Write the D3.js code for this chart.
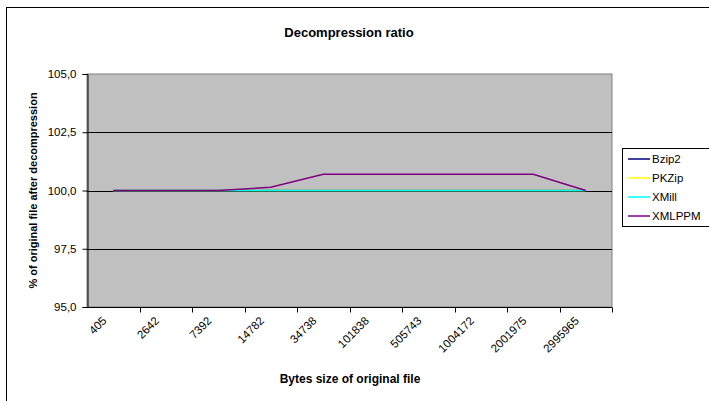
<!DOCTYPE html>
<html>
<head>
<meta charset="utf-8">
<script src="https://cdn.jsdelivr.net/npm/d3@7"></script>
<style>
  body { margin: 0; background: #fff; }
  text { font-family: "Liberation Sans", Arial, sans-serif; }
</style>
</head>
<body>
<div id="chart"></div>
<script>
// category labels (file sizes in bytes)
const sizes = ['405', '2642', '7392', '14782', '34738', '101838', '505743', '1004172', '2001975', '2995965']
const yTicks = [95, 97.5, 100, 102.5, 105]

// % of original file after decompression
const bzip2  = [100, 100, 100, 100, 100, 100, 100, 100, 100, 100]
const pkzip  = [100, 100, 100, 100, 100, 100, 100, 100, 100, 100]
const xmill  = [100, 100, 100, 100, 100, 100, 100, 100, 100, 100]
const xmlppm = [100, 100, 100, 100.14, 100.7, 100.7, 100.7, 100.7, 100.7, 100]

const series = [
  {name: 'Bzip2', values: bzip2, color: '#000080'},
  {name: 'PKZip', values: pkzip, color: '#ffff00'},
  {name: 'XMill', values: xmill, color: '#00ffff'},
  {name: 'XMLPPM', values: xmlppm, color: '#800080'}
]

const width = 709, height = 401
const plot = {left: 87, right: 612, top: 74, bottom: 307}

const svg = d3.select('#chart').append('svg')
  .attr('width', width)
  .attr('height', height)

// outer chart border
svg.append('rect')
  .attr('x', 6.5).attr('y', 7.5)
  .attr('width', 720).attr('height', 420)
  .attr('fill', '#fff').attr('stroke', '#000')

const x = d3.scaleBand().domain(sizes).range([plot.left, plot.right])
const y = d3.scaleLinear().domain([95, 105]).range([plot.bottom, plot.top])

// plot background
svg.append('rect')
  .attr('x', plot.left).attr('y', plot.top)
  .attr('width', plot.right - plot.left).attr('height', plot.bottom - plot.top)
  .attr('fill', '#c0c0c0').attr('stroke', '#808080')

// gridlines
svg.append('g').selectAll('line')
  .data(yTicks.slice(1, -1))
  .enter().append('line')
  .attr('x1', plot.left).attr('x2', plot.right)
  .attr('y1', d => Math.round(y(d)) + 0.5).attr('y2', d => Math.round(y(d)) + 0.5)
  .attr('stroke', '#000')

// y axis
const yAxis = svg.append('g')
  .attr('transform', `translate(${plot.left + 0.5},0)`)
  .call(d3.axisLeft(y).tickValues(yTicks).tickSize(5).tickPadding(6)
    .tickFormat(d => d3.format('.1f')(d).replace('.', ',')))
yAxis.select('.domain').attr('stroke', '#000')
yAxis.selectAll('text').attr('font-size', 11.5).attr('fill', '#000')

// x axis, ticks between categories
const xAxis = svg.append('g')
  .attr('transform', `translate(0,${plot.bottom + 0.5})`)
xAxis.append('line')
  .attr('x1', plot.left).attr('x2', plot.right)
  .attr('stroke', '#000')
xAxis.selectAll('.tk')
  .data(sizes)
  .enter().append('line')
  .attr('class', 'tk')
  .attr('x1', d => Math.round(x(d) + x.bandwidth()) + 0.5)
  .attr('x2', d => Math.round(x(d) + x.bandwidth()) + 0.5)
  .attr('y1', 0).attr('y2', 5)
  .attr('stroke', '#000')
xAxis.selectAll('.lbl')
  .data(sizes)
  .enter().append('text')
  .attr('class', 'lbl')
  .attr('font-size', 11.5)
  .attr('text-anchor', 'end')
  .attr('transform', d => `translate(${x(d) + x.bandwidth() / 2 - 6},${14}) rotate(-45)`)
  .text(d => d)

// lines
const line = d3.line()
  .x((d, i) => x(sizes[i]) + x.bandwidth() / 2)
  .y(d => y(d))

svg.append('g').selectAll('path')
  .data(series)
  .enter().append('path')
  .attr('d', d => line(d.values))
  .attr('fill', 'none')
  .attr('stroke', d => d.color)
  .attr('stroke-width', 1.5)

// titles
svg.append('text')
  .attr('x', 349).attr('y', 37)
  .attr('text-anchor', 'middle')
  .attr('font-size', 13).attr('font-weight', 'bold')
  .text('Decompression ratio')

svg.append('text')
  .attr('x', 350).attr('y', 383)
  .attr('text-anchor', 'middle')
  .attr('font-size', 12).attr('font-weight', 'bold')
  .text('Bytes size of original file')

svg.append('text')
  .attr('transform', `translate(37,${(plot.top + plot.bottom) / 2}) rotate(-90)`)
  .attr('text-anchor', 'middle')
  .attr('font-size', 11).attr('font-weight', 'bold')
  .text('% of original file after decompression')

// legend
svg.append('rect')
  .attr('x', 622.5).attr('y', 148.5)
  .attr('width', 100).attr('height', 78)
  .attr('fill', '#fff').attr('stroke', '#000')
const item = svg.selectAll('.leg')
  .data(series)
  .enter().append('g')
  .attr('class', 'leg')
  .attr('transform', (d, i) => `translate(628,${159 + i * 19})`)
item.append('line')
  .attr('x1', 0).attr('x2', 22)
  .attr('stroke', d => d.color).attr('stroke-width', 1.5)
item.append('text')
  .attr('x', 24).attr('y', 4)
  .attr('font-size', 11.5)
  .text(d => d.name)
</script>
</body>
</html>
